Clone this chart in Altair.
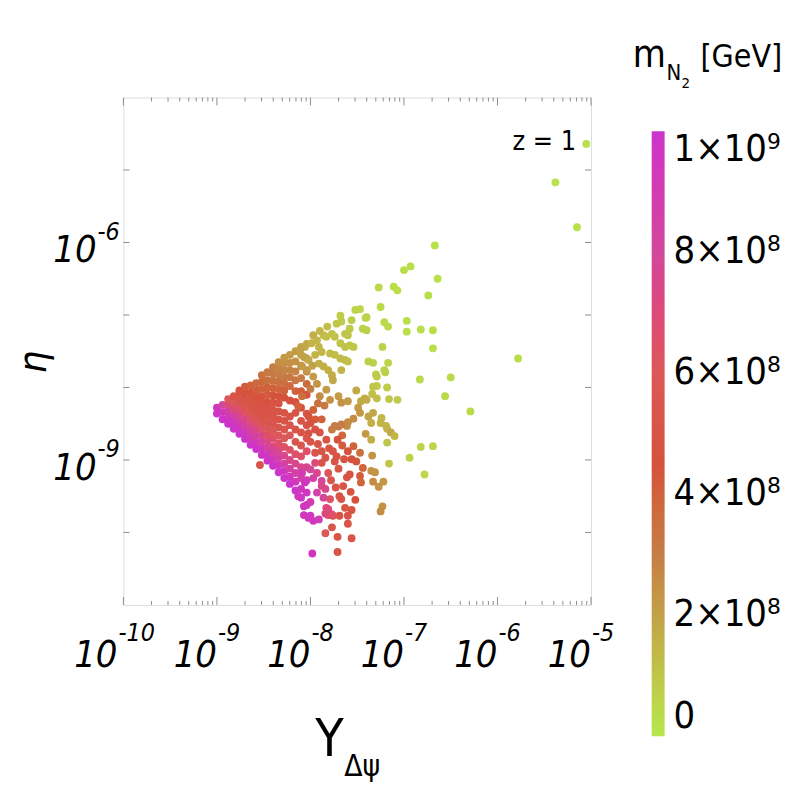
import altair as alt
import pandas as pd

# ---------------- data (log10 values) ----------------
# dense wedge near the tip: one list of log10(eta) values per log10(Y) column
dense_col_logY = [-9.00, -8.94, -8.88, -8.82, -8.76, -8.70, -8.64, -8.58, -8.52,
                  -8.46, -8.40, -8.34, -8.28, -8.22, -8.16, -8.10, -8.04]
dense_col_logEta = [
    [-8.36, -8.28],
    [-8.44, -8.34, -8.24],
    [-8.50, -8.41, -8.32, -8.23, -8.16],
    [-8.57, -8.48, -8.39, -8.30, -8.21, -8.12],
    [-8.64, -8.55, -8.46, -8.37, -8.28, -8.19, -8.10, -8.04],
    [-8.71, -8.62, -8.53, -8.44, -8.35, -8.26, -8.17, -8.08, -7.99],
    [-8.79, -8.70, -8.61, -8.52, -8.43, -8.34, -8.25, -8.16, -8.07, -7.97],
    [-8.85, -8.76, -8.67, -8.58, -8.49, -8.40, -8.31, -8.22, -8.13, -8.04, -7.94],
    [-8.93, -8.84, -8.75, -8.66, -8.57, -8.48, -8.39, -8.30, -8.21, -8.12, -8.02, -7.92, -7.83],
    [-9.01, -8.92, -8.83, -8.74, -8.65, -8.56, -8.47, -8.38, -8.29, -8.20, -8.10, -8.00, -7.90, -7.79],
    [-9.08, -8.99, -8.90, -8.81, -8.70, -8.60, -8.50, -8.40, -8.31, -8.21, -8.11, -8.01, -7.91, -7.81, -7.72],
    [-9.17, -9.07, -8.97, -8.87, -8.77, -8.66, -8.55, -8.44, -8.33, -8.22, -8.12, -8.02, -7.92, -7.82, -7.73, -7.65],
    [-9.25, -9.15, -9.05, -8.94, -8.82, -8.70, -8.58, -8.46, -8.35, -8.14, -8.04, -7.94, -7.85, -7.76, -7.67, -7.59],
    [-9.33, -9.23, -9.12, -9.00, -8.86, -8.66, -8.52, -8.40, -8.18, -7.98, -7.86, -7.76, -7.66, -7.55],
    [-9.42, -9.30, -9.18, -9.05, -8.92, -8.75, -8.58, -8.35, -8.20, -8.05, -7.90, -7.78, -7.64, -7.50],
    [-9.52, -9.40, -9.25, -9.10, -8.95, -8.80, -8.62, -8.46, -8.28, -8.05, -7.87, -7.70, -7.55, -7.44],
    [-9.62, -9.45, -9.28, -9.10, -8.88, -8.70, -8.52, -8.36, -8.10, -7.95, -7.78, -7.60, -7.40],
]
# m_N2 in units of 1e8 GeV, same layout as dense_col_logEta
dense_col_mass = [
    [10, 9.5],
    [10, 9.5, 8],
    [10, 9.5, 8.5, 7, 6],
    [10, 9.5, 8.5, 7, 6, 5],
    [10, 9.5, 8.5, 7.5, 6.5, 5.5, 5, 4.5],
    [10, 9.5, 8.5, 7.5, 6.5, 5.5, 5, 4.5, 4.2],
    [10, 9, 8.5, 7.5, 6.5, 5.5, 5, 4.8, 4.5, 4],
    [10, 9.5, 8.5, 7.5, 6.5, 5.5, 5, 5, 4.5, 4.2, 3.8],
    [10, 9.5, 8.5, 7.5, 6.5, 5.5, 5, 5, 4.8, 4.5, 4, 3.8, 3.5],
    [10, 9.5, 8.5, 7.5, 6.5, 6, 5.5, 5, 5, 4.5, 4.2, 4, 3.5, 3.2],
    [10, 9.5, 8.5, 7.5, 6.5, 6, 5.5, 5, 5, 4.8, 4.5, 4, 3.5, 3.2, 3],
    [10, 9.5, 8.5, 7.5, 6.5, 6, 5.5, 5, 5, 4.8, 4.5, 4, 3.5, 3, 2.8, 2.6],
    [10, 9.5, 8.5, 7.5, 6.5, 6, 5.5, 5, 5, 4.5, 4, 3.5, 3, 2.8, 2.5, 2.3],
    [10, 9.5, 8.5, 7.5, 6.5, 6, 5.5, 5, 4.5, 3.8, 3.2, 2.8, 2.5, 2.2],
    [10, 9.5, 8.5, 7.5, 6.5, 5.5, 5.2, 5, 4.6, 4, 3.2, 2.8, 2.4, 2.2],
    [10, 9.5, 8.5, 7.5, 6.5, 5.5, 5.2, 5, 4.6, 4.2, 3, 2.6, 2.2, 2],
    [10, 9.5, 9, 7.5, 6.5, 5.5, 5.2, 5, 4.5, 3.8, 2.8, 2.3, 1.8],
]

# scattered points: (log10 Y, log10 eta, m_N2 / 1e8 GeV)
far_green = [
    (-5.05, -4.64, 0.2), (-5.38, -5.17, 0.2), (-5.15, -5.79, 0.2), (-5.78, -7.60, 0.3),
    (-6.29, -8.33, 0.4), (-6.50, -7.86, 0.4), (-6.56, -8.12, 0.4), (-6.83, -7.89, 0.4),
    (-6.67, -6.04, 0.2), (-6.93, -6.33, 0.3), (-7.00, -6.38, 0.3), (-6.64, -6.50, 0.2),
    (-6.74, -6.73, 0.3), (-6.97, -7.08, 0.3), (-6.97, -7.23, 0.3), (-6.82, -7.20, 0.3),
    (-6.69, -7.21, 0.3), (-6.69, -7.46, 0.3), (-6.82, -8.82, 0.6), (-6.69, -8.81, 0.6),
    (-6.94, -8.97, 0.6), (-6.78, -9.20, 0.5),
]
upper_plume = [
    (-7.27, -6.62, 0.4), (-7.11, -6.61, 0.3), (-7.07, -6.66, 0.3), (-7.25, -6.89, 0.4),
    (-7.52, -6.93, 0.6), (-7.47, -6.92, 0.5), (-7.68, -7.01, 0.8), (-7.67, -7.09, 0.9),
    (-7.41, -7.04, 0.6), (-7.21, -7.10, 0.4), (-7.17, -7.16, 0.4), (-7.23, -7.44, 0.6),
    (-7.38, -7.64, 0.7), (-7.33, -7.66, 0.7), (-7.17, -7.66, 0.6), (-7.20, -7.79, 0.7),
    (-7.30, -7.82, 0.8), (-7.29, -7.98, 0.9), (-7.18, -8.00, 0.8), (-7.34, -8.09, 1.2),
    (-7.29, -8.15, 1.2), (-7.16, -8.16, 1.0), (-7.07, -8.17, 0.9),
    (-7.56, -7.07, 0.8), (-7.40, -7.03, 0.6), (-7.44, -7.19, 0.7), (-7.40, -7.21, 0.7),
    (-7.58, -7.19, 0.9), (-7.63, -7.26, 1.0), (-7.60, -7.28, 1.0), (-7.77, -7.26, 1.1),
    (-7.74, -7.30, 1.1), (-7.83, -7.30, 1.2), (-7.86, -7.28, 1.2), (-7.68, -7.39, 1.1),
    (-7.63, -7.44, 1.1), (-7.58, -7.42, 1.0), (-7.54, -7.44, 1.0), (-7.93, -7.35, 1.4),
    (-7.99, -7.39, 1.5), (-7.91, -7.44, 1.4), (-7.88, -7.51, 1.4), (-7.95, -7.55, 1.5),
    (-7.79, -7.53, 1.3), (-7.74, -7.55, 1.3), (-7.68, -7.60, 1.3), (-7.63, -7.62, 1.3),
    (-7.60, -7.64, 1.2), (-7.21, -7.76, 0.7), (-7.82, -7.16, 1.2), (-7.72, -7.12, 1.0),
    (-7.90, -7.22, 1.4), (-7.97, -7.28, 1.6),
]
olive_middle = [
    (-8.06, -7.44, 1.8), (-8.11, -7.48, 2.0), (-8.07, -7.58, 2.0), (-8.02, -7.62, 1.8),
    (-8.09, -7.71, 2.2), (-8.04, -7.76, 2.2), (-7.91, -7.67, 1.6), (-7.86, -7.71, 1.6),
    (-7.81, -7.76, 1.6), (-7.77, -7.83, 1.7), (-7.76, -7.90, 1.8), (-7.67, -7.76, 1.5),
    (-7.29, -7.85, 0.9), (-7.33, -7.99, 1.0), (-7.42, -8.15, 1.8), (-7.46, -8.19, 1.8),
    (-7.40, -8.17, 1.7), (-7.51, -8.04, 1.8), (-7.83, -8.03, 2.2), (-7.90, -8.12, 2.6),
    (-7.79, -8.17, 2.4), (-7.70, -8.12, 2.2), (-7.67, -8.21, 2.4), (-7.60, -8.19, 2.2),
    (-7.49, -8.28, 2.2), (-7.47, -8.35, 2.3), (-7.33, -8.35, 1.8), (-7.38, -8.40, 1.9),
    (-7.24, -8.42, 1.4), (-7.19, -8.53, 1.4), (-7.54, -8.43, 2.6), (-7.35, -8.49, 1.6),
    (-7.25, -8.49, 1.5), (-7.35, -8.72, 1.6), (-7.41, -8.64, 2.2), (-7.18, -8.57, 1.5),
    (-7.14, -8.62, 1.8), (-7.10, -8.67, 1.5), (-7.18, -8.76, 1.0), (-7.16, -9.05, 1.0),
    (-7.97, -7.85, 2.2), (-7.93, -7.95, 2.4), (-8.00, -8.02, 3.0), (-7.98, -7.70, 2.0),
]
tan_lower = [
    (-7.34, -8.94, 2.4), (-7.35, -9.15, 2.4), (-7.31, -9.17, 2.4), (-7.33, -9.30, 2.6),
    (-7.22, -9.30, 2.3), (-7.27, -9.37, 2.4), (-7.23, -9.64, 2.4), (-7.25, -9.71, 2.6),
    (-7.77, -8.58, 3.0), (-7.70, -8.54, 3.0), (-7.61, -8.53, 2.6), (-7.60, -8.48, 2.6),
    (-7.74, -8.53, 3.0), (-7.67, -8.51, 3.0), (-7.47, -8.90, 3.5), (-7.44, -9.11, 4.0),
    (-7.47, -9.22, 4.2), (-7.46, -9.31, 4.0), (-7.66, -8.66, 3.8), (-7.88, -8.44, 4.0),
    (-7.92, -8.22, 3.5), (-7.85, -8.25, 3.2), (-8.09, -8.12, 3.5), (-8.13, -8.26, 4.0),
]
red_lower = [
    (-7.54, -8.81, 4.0), (-7.60, -8.88, 4.5), (-7.56, -8.99, 4.5), (-7.51, -9.02, 4.5),
    (-7.64, -8.99, 4.8), (-7.76, -8.88, 5.0), (-7.74, -9.02, 5.0), (-7.84, -8.97, 5.0),
    (-7.88, -9.04, 5.2), (-7.65, -9.36, 5.0), (-7.61, -9.24, 5.0), (-7.58, -9.20, 4.8),
    (-7.69, -9.50, 5.0), (-7.67, -9.54, 5.0), (-7.63, -9.66, 5.0), (-7.56, -9.69, 4.8),
    (-7.60, -9.77, 5.0), (-7.77, -9.93, 5.5), (-7.60, -9.88, 5.0), (-7.56, -10.08, 5.0),
    (-7.71, -10.06, 5.0), (-7.71, -10.27, 5.0), (-7.84, -10.01, 6.0), (-7.69, -9.77, 5.0),
    (-7.76, -9.77, 5.5), (-8.54, -9.07, 5.5), (-7.97, -8.31, 4.0), (-8.02, -8.40, 4.5),
    (-7.95, -8.44, 4.2), (-8.00, -8.49, 4.5), (-8.02, -8.63, 5.0), (-7.95, -8.90, 5.5),
    (-7.90, -8.62, 5.0), (-7.83, -8.72, 4.8), (-7.92, -8.78, 5.2), (-7.71, -8.72, 4.5),
    (-7.81, -9.18, 6.0), (-8.00, -8.75, 5.0), (-7.95, -8.58, 4.8), (-7.88, -8.88, 5.0),
    (-7.80, -8.84, 4.8), (-7.72, -8.95, 4.8), (-7.66, -8.80, 4.2), (-7.70, -9.12, 5.0),
    (-7.78, -9.28, 5.5), (-7.73, -9.38, 5.2), (-7.57, -9.44, 4.8), (-7.52, -9.55, 4.5),
]
magenta_lower = [
    (-7.98, -10.29, 9.5), (-8.02, -9.80, 9.5), (-8.07, -9.76, 9.5), (-7.91, -9.82, 9.0),
    (-8.13, -9.50, 9.5), (-7.84, -9.74, 7.5), (-7.81, -9.76, 7.0), (-8.09, -9.18, 9.0),
    (-8.06, -9.31, 9.5), (-8.07, -9.64, 9.5), (-7.88, -9.29, 8.0), (-7.84, -9.40, 7.5),
    (-7.86, -9.52, 8.0), (-7.79, -9.54, 6.5), (-7.83, -9.66, 7.0), (-7.77, -9.75, 6.5),
    (-8.00, -9.77, 9.5), (-7.97, -9.84, 9.5), (-7.95, -9.04, 7.0), (-8.00, -9.13, 8.0),
    (-7.93, -9.18, 7.5), (-7.88, -9.36, 7.5), (-7.81, -9.68, 7.0), (-7.97, -9.25, 8.5),
    (-7.93, -9.45, 8.5), (-8.00, -9.58, 9.0),
]

# axes / ticks / legend values
x_major = [1e-10, 1e-9, 1e-8, 1e-7, 1e-6, 1e-5]
x_exponents = ["-10", "-9", "-8", "-7", "-6", "-5"]
x_minor = [k * d for d in [1e-10, 1e-9, 1e-8, 1e-7, 1e-6] for k in range(2, 10)]
y_tick_values = [1e-10, 1e-9, 1e-8, 1e-7, 1e-6, 1e-5]
y_label_values = [1e-9, 1e-6]
y_exponents = ["-9", "-6"]
x_domain = [1e-10, 1e-5]
y_domain = [1e-11, 1e-4]
legend_values = [0, 2, 4, 6, 8, 10]
legend_labels = ["0", "2×10⁸", "4×10⁸", "6×10⁸", "8×10⁸", "1×10⁹"]
color_domain = [0, 1, 2, 3, 4.5, 6, 8, 10]
color_range = ["#b4e84c", "#bfc64a", "#c1a248", "#c57d46", "#d5523c",
               "#db5858", "#d2489c", "#cc35cc"]

# ---------------- build table ----------------
rows = []
for lx, col_y, col_m in zip(dense_col_logY, dense_col_logEta, dense_col_mass):
    for ly, m in zip(col_y, col_m):
        rows.append((lx, ly, m))
for grp in [far_green, upper_plume, olive_middle, tan_lower, red_lower, magenta_lower]:
    rows.extend(grp)
df = pd.DataFrame(rows, columns=["logY", "logEta", "m"])
df["Y"] = 10.0 ** df["logY"]
df["eta"] = 10.0 ** df["logEta"]

W, H = 470, 510
FONT = "DejaVu Sans Condensed, DejaVu Sans"

xscale = alt.Scale(type="log", domain=x_domain, nice=False)
yscale = alt.Scale(type="log", domain=y_domain, nice=False)

legend_label_expr = "[" + ",".join("'%s'" % s for s in legend_labels) + "][round(datum.value/2)]"

points = alt.Chart(df).mark_circle(size=62, opacity=1).encode(
    x=alt.X("Y:Q", scale=xscale, axis=None),
    y=alt.Y("eta:Q", scale=yscale, axis=None),
    color=alt.Color("m:Q", scale=alt.Scale(domain=color_domain, range=color_range),
                    legend=alt.Legend(orient="none", legendX=531, legendY=34, direction="vertical",
                                      title=None, gradientLength=608, gradientThickness=13,
                                      gradientStrokeWidth=0, values=legend_values,
                                      labelExpr=legend_label_expr, labelFont=FONT,
                                      labelFontSize=38, labelColor="black", labelOffset=9,
                                      labelLimit=300, padding=0)),
)

xt = pd.DataFrame({"v": x_major, "base": ["10"] * len(x_major), "exp": x_exponents})
xm = pd.DataFrame({"v": x_minor})
yt = pd.DataFrame({"v": y_tick_values})
yl = pd.DataFrame({"v": y_label_values, "base": ["10"] * len(y_label_values), "exp": y_exponents})
TICK = "#8c8c8c"

def xticks(data, y0, y1):
    return alt.Chart(data).mark_rule(color=TICK, strokeWidth=1).encode(
        x=alt.X("v:Q", scale=xscale, axis=None), y=alt.value(y0), y2=alt.value(y1))

def yticks(data, x0, x1):
    return alt.Chart(data).mark_rule(color=TICK, strokeWidth=1).encode(
        y=alt.Y("v:Q", scale=yscale, axis=None), x=alt.value(x0), x2=alt.value(x1))

tick_layers = [
    xticks(xt, H, H - 8), xticks(xm, H, H - 4),
    xticks(xt, 0, 8), xticks(xm, 0, 4),
    yticks(yt, 0, 6), yticks(yt, W, W - 6),
]

BASE_FS, EXP_FS = 38, 25

def xlab(data, field, split_dx, size, yv, align):
    return alt.Chart(data).mark_text(
        font=FONT, fontSize=size, fontStyle="italic", align=align, baseline="alphabetic",
        dx=split_dx, color="black").encode(
        x=alt.X("v:Q", scale=xscale, axis=None), y=alt.value(yv), text=f"{field}:N")

xt_two = xt[xt["exp"].str.len() == 3]
xt_one = xt[xt["exp"].str.len() == 2]
x_label_layers = [
    xlab(xt_two, "base", -6, BASE_FS, H + 62, "right"),
    xlab(xt_two, "exp", -5, EXP_FS, H + 36, "left"),
    xlab(xt_one, "base", 0, BASE_FS, H + 62, "right"),
    xlab(xt_one, "exp", 1, EXP_FS, H + 36, "left"),
]

def ylab(field, size, dy, align, dx):
    return alt.Chart(yl).mark_text(
        font=FONT, fontSize=size, fontStyle="italic", align=align, baseline="alphabetic",
        dy=dy, dx=dx, color="black").encode(
        y=alt.Y("v:Q", scale=yscale, axis=None), x=alt.value(0), text=f"{field}:N")

y_label_layers = [
    ylab("base", BASE_FS, 20, "right", -27),
    ylab("exp", EXP_FS, -3, "left", -26),
]

def label(text, x, y, size, style="normal", align="left", angle=0, baseline="alphabetic"):
    return alt.Chart(pd.DataFrame({"t": [text]})).mark_text(
        font=FONT, fontSize=size, fontStyle=style, align=align, baseline=baseline,
        angle=angle, color="black").encode(text="t:N", x=alt.value(x), y=alt.value(y))

texts = [
    label("z = 1", 455, 53, 27, align="right"),
    label("η", -90, 266, 40, style="italic", align="center", angle=270, baseline="middle"),
    label("Y", 207, 662, 52, align="center"),
    label("Δψ", 222, 682, 30),
    label("m", 512, -31, 38),
    label("N", 546, -18, 22),
    label("2", 561, -10, 15),
    label("[GeV]", 580, -31, 32),
]

chart = alt.layer(*tick_layers, points, *x_label_layers, *y_label_layers, *texts).properties(
    width=W, height=H,
    padding={"left": 116, "top": 88, "right": 195, "bottom": 180},
    autosize=alt.AutoSizeParams(type="none"),
).configure_view(stroke="#b0b0b0", strokeWidth=1).configure(background="white")

chart.save("out.html", embed_options={"renderer": "svg", "actions": False})
